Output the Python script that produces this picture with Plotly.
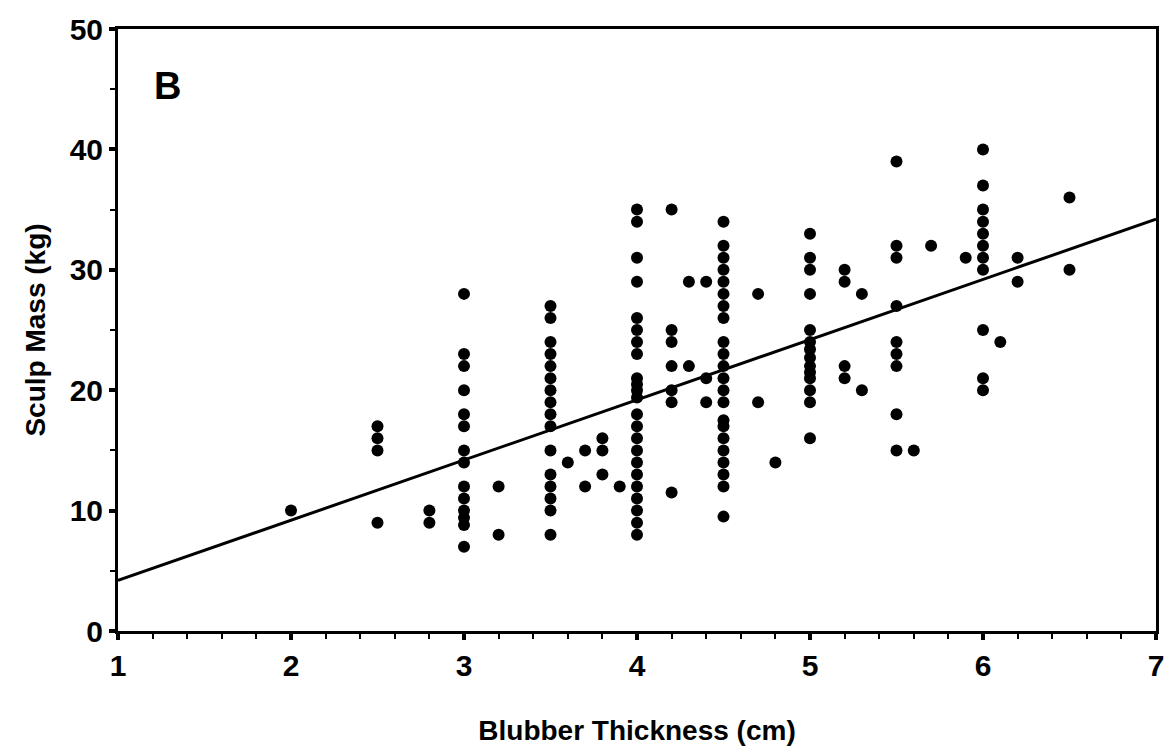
import plotly.graph_objects as go

# Blubber thickness (cm) and sculp mass (kg), grouped by thickness value
thickness_groups = [2.0, 2.5, 2.8, 3.0, 3.2, 3.5, 3.6, 3.7, 3.8, 3.9, 4.0,
                    4.2, 4.3, 4.4, 4.5, 4.7, 4.8, 5.0, 5.2, 5.3, 5.5, 5.6,
                    5.7, 5.9, 6.0, 6.1, 6.2, 6.5]
mass_groups = [
    [10],
    [17, 16, 15, 9],
    [10, 9],
    [28, 23, 22, 20, 18, 17, 15, 14, 12, 11, 10, 9.4, 8.8, 7],
    [12, 8],
    [27, 26, 24, 23, 22, 21, 20, 19, 18, 17, 15, 13, 12, 11, 10, 8],
    [14],
    [15, 12],
    [16, 15, 13],
    [12],
    [35, 34, 31, 29, 26, 25, 24, 23, 21, 20.5, 20, 19.4, 18, 17, 16, 15,
     14, 13, 12, 11, 10, 9, 8],
    [35, 25, 24, 22, 20, 19, 11.5],
    [29, 22],
    [29, 21, 19],
    [34, 32, 31, 30, 29, 28, 27, 26, 24, 23, 22, 21, 20, 19, 17.5, 17, 16,
     15, 14, 13, 12, 9.5],
    [28, 19],
    [14],
    [33, 31, 30, 28, 25, 24, 23.4, 22.7, 22, 21.5, 21, 20, 19, 16],
    [30, 29, 22, 21],
    [28, 20],
    [39, 32, 31, 27, 24, 23, 22, 18, 15],
    [15],
    [32],
    [31],
    [40, 37, 35, 34, 33, 32, 31, 30, 25, 21, 20],
    [24],
    [31, 29],
    [36, 30],
]

# Least-squares line: mass = slope * thickness + intercept
fit_slope = 5.0
fit_intercept = -0.8
fit_x = [1, 7]

x_ticks = [1, 2, 3, 4, 5, 6, 7]
y_ticks = [0, 10, 20, 30, 40, 50]

xs, ys = [], []
for t, masses in zip(thickness_groups, mass_groups):
    for m in masses:
        xs.append(t)
        ys.append(m)

FONT = "Liberation Sans, Arial, sans-serif"

fig = go.Figure()
fig.add_trace(go.Scatter(
    x=fit_x, y=[fit_slope * v + fit_intercept for v in fit_x],
    mode="lines", line=dict(color="black", width=3), hoverinfo="skip",
))
fig.add_trace(go.Scatter(
    x=xs, y=ys, mode="markers",
    marker=dict(color="black", size=12, line=dict(width=0)),
))

axis_common = dict(
    showgrid=False, zeroline=False, showline=True, mirror=True,
    linecolor="black", linewidth=3,
    ticks="outside", tickcolor="black", tickwidth=4, ticklen=6,
    tickfont=dict(family=FONT, size=30, color="black", weight="bold"),
)

fig.update_xaxes(
    range=[1, 7], tickvals=x_ticks, ticktext=[str(v) for v in x_ticks],
    minor=dict(dtick=0.2, ticks="outside", ticklen=5, tickwidth=2,
               tickcolor="black"),
    title=dict(text="Blubber Thickness (cm)",
               font=dict(family=FONT, size=28, color="black", weight="bold"),
               standoff=40),
    **axis_common,
)
fig.update_yaxes(
    range=[0, 50], tickvals=y_ticks, ticktext=[str(v) for v in y_ticks],
    minor=dict(dtick=5, ticks="outside", ticklen=5, tickwidth=2,
               tickcolor="black"),
    title=dict(text="Sculp Mass (kg)",
               font=dict(family=FONT, size=28, color="black", weight="bold"),
               standoff=16),
    **axis_common,
)

fig.add_annotation(
    x=0.048, y=0.905, xref="paper", yref="paper", text="B", showarrow=False,
    font=dict(family=FONT, size=38, color="black", weight="bold"),
    xanchor="center", yanchor="middle",
)

fig.update_layout(
    width=1176, height=754,
    margin=dict(l=118, r=16, t=27, b=123),
    paper_bgcolor="white", plot_bgcolor="white",
    showlegend=False,
)

fig.write_html("out.html")
